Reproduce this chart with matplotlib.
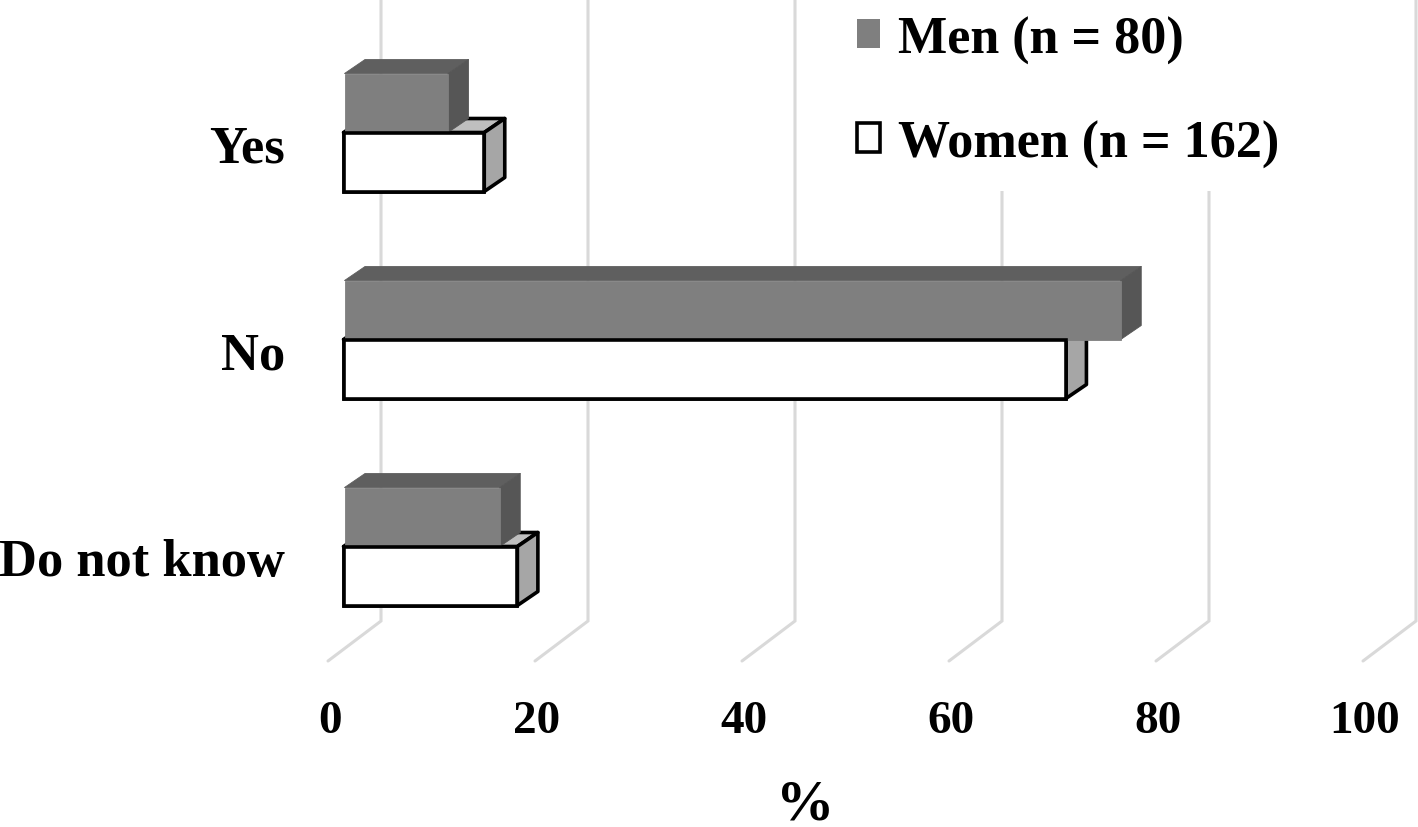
import matplotlib
matplotlib.use('Agg')
import matplotlib.pyplot as plt
from matplotlib.patches import Polygon, Patch, Rectangle
from matplotlib.transforms import ScaledTranslation

plt.rcParams['font.family'] = ['Liberation Serif', 'DejaVu Serif']
plt.rcParams['font.weight'] = 'bold'

# data
categories = ['Yes', 'No', 'Do not know']
men = [10, 75, 15]
women = [13.6, 69.8, 16.8]
x_ticks = [0, 20, 40, 60, 80, 100]
men_label = 'Men (n = 80)'
women_label = 'Women (n = 162)'

# colours
GRID = '#d9d9d9'
MEN_FRONT, MEN_TOP, MEN_SIDE = '#7f7f7f', '#5f5f5f', '#565656'
WOMEN_FRONT, WOMEN_TOP, WOMEN_SIDE = '#ffffff', '#bfbfbf', '#a6a6a6'

# the fake 3d look: sizes in axis units (10.35 px per %, 207 px per category)
PX_X = 1 / 10.35
PX_Y = 1 / 207
bar_h = 59 * PX_Y
bar_dx, bar_dy = 20.5 * PX_X, 14 * PX_Y
wall_dx, wall_dy = 53 * PX_X, 40 * PX_Y
start_m = 16.5 * PX_X
start_w = 15.5 * PX_X
floor = 528.5 * PX_Y
top = -133.5 * PX_Y
LW = 2.6


def box(ax, left, width, y0, front, top_c, side, edge=None, lw=0.6, z=3):
    # front face through barh, the two others as polygons
    # without an edge colour each face gets a thin edge of its own colour, so no seams show
    right = left + width
    y1 = y0 + bar_h
    ax.add_patch(Polygon([(left, y0), (left + bar_dx, y0 - bar_dy), (right + bar_dx, y0 - bar_dy), (right, y0)],
                         fc=top_c, ec=edge or top_c, lw=lw, zorder=z, joinstyle='round', clip_on=False))
    ax.add_patch(Polygon([(right, y0), (right + bar_dx, y0 - bar_dy), (right + bar_dx, y1 - bar_dy), (right, y1)],
                         fc=side, ec=edge or side, lw=lw, zorder=z, joinstyle='round', clip_on=False))
    ax.barh(y0 + bar_h / 2, width, height=bar_h, left=left, color=front, edgecolor=edge or front, linewidth=lw,
            zorder=z + 0.1)


fig = plt.figure(figsize=(14.18, 8.28), dpi=100)
ax = fig.add_axes([328 / 1418, 1 - 662 / 828, 1090 / 1418, 662 / 828])

# grid walls
for t in x_ticks:
    ax.plot([t, t + wall_dx, t + wall_dx], [floor, floor - wall_dy, top], color=GRID, lw=2.2,
            solid_joinstyle='miter', solid_capstyle='round', zorder=1, clip_on=False)

# white area of the legend hides two of the walls
ax.add_patch(Rectangle((0.46, 0.71), 0.43, 0.3, transform=ax.transAxes, fc='white', ec='none', zorder=1.5,
                       clip_on=False))

for i in range(len(categories)):
    box(ax, start_m, men[i], i - bar_h, MEN_FRONT, MEN_TOP, MEN_SIDE, z=3)
    box(ax, start_w, women[i], i, WOMEN_FRONT, WOMEN_TOP, WOMEN_SIDE, edge='black', lw=LW, z=2)
    # men drawn over the women's top, women's front stays above the men's foot
    ax.barh(i + bar_h / 2, women[i], height=bar_h, left=start_w, color=WOMEN_FRONT, edgecolor='black',
            linewidth=LW, zorder=4)

ax.set_xlim(0, 1090 * PX_X)
ax.set_ylim(floor, top)
ax.set_xticks(x_ticks)
ax.set_xticklabels(x_ticks, fontsize=34, fontweight='bold')
ax.set_yticks([i + 10.5 * PX_Y for i in range(len(categories))])
ax.set_yticklabels(categories, fontsize=37.8, fontweight='bold')
ax.tick_params(axis='x', length=0, pad=28)
ax.tick_params(axis='y', length=0, pad=31)
shift = ScaledTranslation(2 / 100, 0, fig.dpi_scale_trans)
for lab in ax.get_xticklabels():
    lab.set_transform(lab.get_transform() + shift)
for s in ax.spines.values():
    s.set_visible(False)
ax.patch.set_alpha(0)
ax.set_xlabel('%', fontsize=42, fontweight='bold')
ax.xaxis.set_label_coords(0.438, -0.178)

handles = [Patch(fc=MEN_FRONT, ec='none'), Patch(fc='white', ec='black', lw=LW)]
leg = ax.legend(handles, [men_label, women_label], loc='lower left', bbox_to_anchor=(0.4638, 0.71),
                borderaxespad=0, prop={'size': 37.5, 'weight': 'bold'}, frameon=False,
                handlelength=0.45, handleheight=0.47, handletextpad=0.33, labelspacing=1.07, borderpad=0.45)
leg.set_zorder(6)

fig.savefig('out.png', dpi=100)
